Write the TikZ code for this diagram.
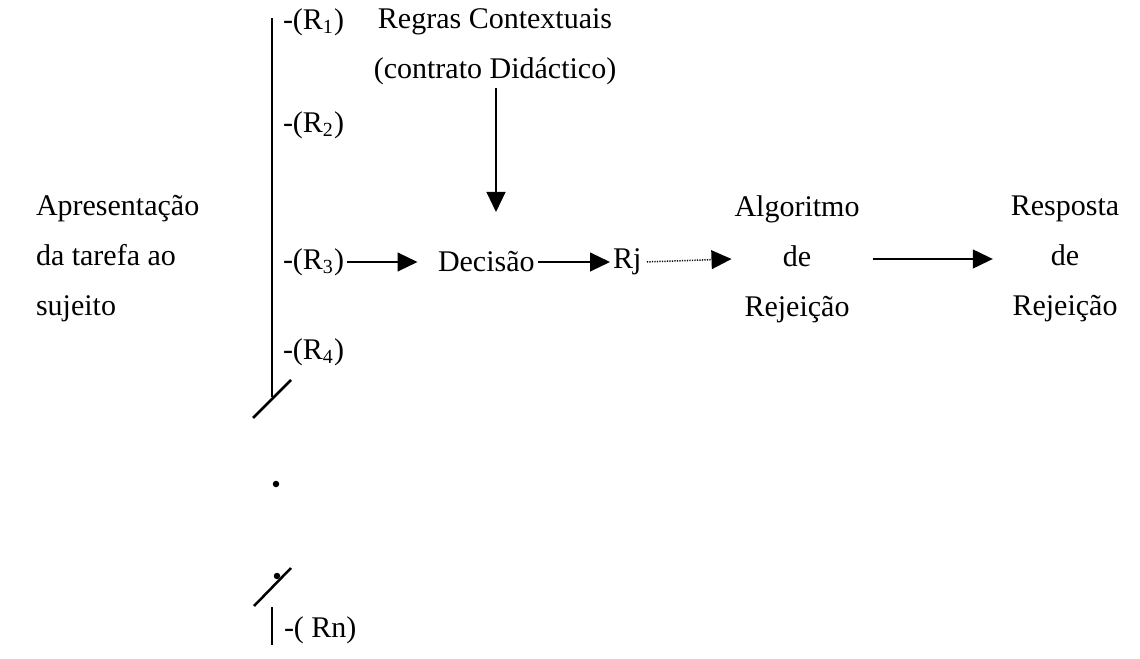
\documentclass[tikz,border=0pt]{standalone}
\usepackage{fontspec}
\setmainfont{Liberation Serif}
\usetikzlibrary{arrows.meta}

\tikzset{
  txt/.style={inner sep=1pt, font=\fontsize{12}{20}\selectfont, align=center},
  arr/.style={line width=0.8pt, -{Triangle[length=8pt,width=7.5pt]}},
  dotarr/.style={line width=0.6pt, dash pattern=on 0.5pt off 0.5pt, -{Triangle[length=8pt,width=7.5pt]}},
  bar/.style={line width=1pt}
}

\begin{document}
\begin{tikzpicture}[x=0.4pt, y=-0.4pt]
    \useasboundingbox (0,0) rectangle (1140,659);
    % Bracket of the possible answers
    \draw[bar] (272,18) -- (272,397);
    \draw[bar] (253,418) -- (291,380);
    \fill (276,484) circle (1.3pt);
    \fill (277,576) circle (1.3pt);
    \draw[bar] (254,606) -- (291,568);
    \draw[bar] (272,607) -- (272,645);
    % Answers R1 ... Rn
    \foreach \i/\y in {1/22,2/125,3/262,4/352} {
        \node[txt, anchor=west] (r\i) at (280,\y) {-(R\textsubscript{\i})};
    }
    \node[txt, anchor=west] (rn) at (281,630) {-( Rn)};
    % Task and context
    \node[txt, anchor=west, align=left] (task) at (33,259) {Apresentação\\da tarefa ao\\sujeito};
    \node[txt] (ctx) at (495,47) {Regras Contextuais\\(contrato Didáctico)};
    \coordinate (ctxtip) at (496,212);
    \draw[arr] (ctx.south -| ctxtip) -- (ctxtip);
    % Decision chain
    \node[txt, anchor=west] (dec) at (435,262) {Decisão};
    \node[txt, anchor=west] (rj) at (610,262) {Rj};
    \node[txt] (alg) at (797,259) {Algoritmo\\de\\Rejeição};
    \node[txt] (resp) at (1065,259) {Resposta\\de\\Rejeição};
    \draw[arr, shorten >=7pt] (r3.east) -- (dec.west);
    \draw[arr] (dec.east) -- (rj.west);
    \draw[dotarr, shorten <=1pt] (rj.east) -- (alg.west);
    \draw[arr, shorten <=4pt, shorten >=6pt] (alg.east) -- (resp.west);
\end{tikzpicture}
\end{document}
